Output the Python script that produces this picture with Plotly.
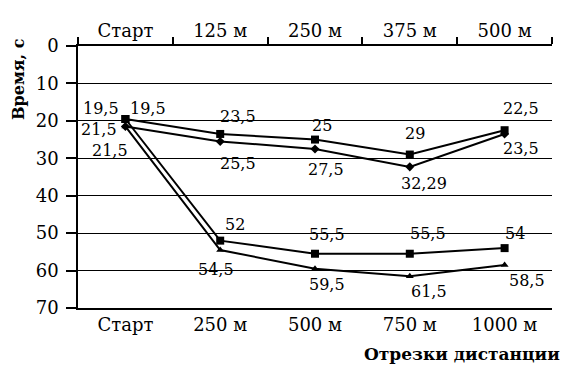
import plotly.graph_objects as go

cats_bottom = ["Старт", "250 м", "500 м", "750 м", "1000 м"]
cats_top = ["Старт", "125 м", "250 м", "375 м", "500 м"]

series_a = [19.5, 23.5, 25, 29, 22.5]       # upper, squares (top axis)
series_b = [21.5, 25.5, 27.5, 32.29, 23.5]  # upper, diamonds (top axis)
series_c = [19.5, 52, 55.5, 55.5, 54]       # lower, squares (bottom axis)
series_d = [21.5, 54.5, 59.5, 61.5, 58.5]   # lower, triangles (bottom axis)

# label offsets in pixels (xshift, yshift) for each point
shift_a = [(-24, 10), (18, 17), (7, 14), (5, 21), (16, 22)]
shift_b = [(-26, -3), (18, -22), (11, -21), (14, -17), (16, -15)]
shift_c = [(23, 10), (15, 16), (12, 19), (18, 20), (10, 15)]
shift_d = [(-15, -24), (-4, -20), (12, -16), (19, -15), (22, -16)]

def lab(v):
    return f"{v:g}".replace(".", ",")

fig = go.Figure()
LAB_FONT = dict(family="DejaVu Serif", size=16, color="black")
TICK_FONT = dict(family="DejaVu Serif", size=18, color="black")

traces = [
    (cats_top, series_a, "x2", "square", 8, shift_a),
    (cats_top, series_b, "x2", "diamond", 7, shift_b),
    (cats_bottom, series_c, "x", "square", 8, shift_c),
    (cats_bottom, series_d, "x", "triangle-up", 7, shift_d),
]

annotations = []
for cats, vals, xax, sym, sz, shifts in traces:
    fig.add_trace(go.Scatter(
        x=cats, y=vals, xaxis=xax, mode="lines+markers",
        line=dict(color="black", width=2),
        marker=dict(symbol=sym, size=sz, color="black"),
        showlegend=False))
    for c, v, (dx, dy) in zip(cats, vals, shifts):
        annotations.append(dict(
            x=c, y=v, xref=xax, yref="y", text=lab(v), showarrow=False,
            xshift=dx, yshift=dy, font=LAB_FONT, xanchor="center", yanchor="middle"))

pw = 562 - 78 - 10
ph = 365 - 46 - 57

annotations += [
    dict(text="<b>Время, с</b>", textangle=-90, x=(18 - 78) / pw, y=(365 - 57 - 79) / ph,
         xref="paper", yref="paper",
         font=dict(family="DejaVu Serif", size=16, color="black"), showarrow=False,
         xanchor="center", yanchor="middle"),
    dict(text="<b>Отрезки дистанции</b>", x=1.0, y=0, xref="paper", yref="paper",
         xanchor="right", yanchor="top", yshift=-34, xshift=10,
         font=dict(family="DejaVu Serif", size=17, color="black"), showarrow=False),
]

fig.update_layout(
    width=562, height=365,
    margin=dict(l=78, r=10, t=46, b=57),
    paper_bgcolor="white", plot_bgcolor="white",
    xaxis=dict(type="category", categoryorder="array", categoryarray=cats_bottom,
               range=[-0.5, 4.5], showline=True, linecolor="black", linewidth=1.5,
               ticks="", showgrid=False, tickfont=TICK_FONT, zeroline=False),
    xaxis2=dict(type="category", categoryorder="array", categoryarray=cats_top,
                range=[-0.5, 4.5], overlaying="x", side="top", anchor="y",
                showline=True, linecolor="black", linewidth=1.5,
                ticks="outside", tickson="boundaries", ticklen=7, tickcolor="black", tickwidth=1.5,
                showgrid=False, tickfont=TICK_FONT, zeroline=False),
    yaxis=dict(range=[70, 0], tickvals=[0, 10, 20, 30, 40, 50, 60, 70],
               showline=True, linecolor="black", linewidth=1.5,
               ticks="outside", ticklen=10, tickcolor="black", tickwidth=1.5,
               showgrid=True, gridcolor="black", gridwidth=1.2,
               tickfont=TICK_FONT, zeroline=False, ticklabelstandoff=4),
    annotations=annotations,
)

fig.write_html("out.html")
